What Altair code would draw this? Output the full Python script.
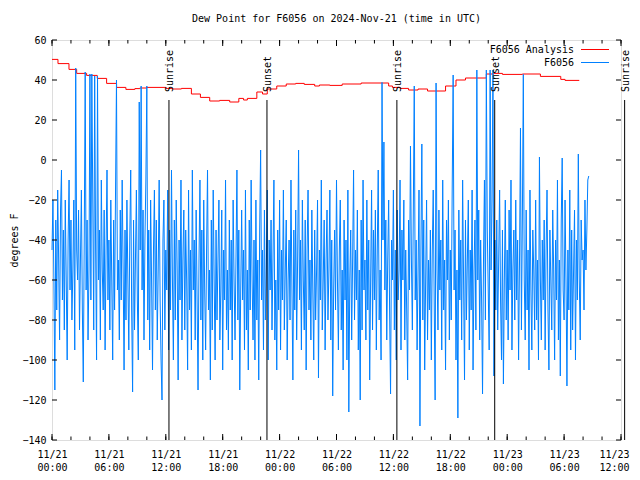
import altair as alt
import pandas as pd

FONT = "DejaVu Sans Mono"
TITLE = "Dew Point for F6056 on 2024-Nov-21 (time in UTC)"
series_names = ["F6056 Analysis", "F6056"]
series_colors = ["#ff0000", "#0080ff"]

# Analysis (red, stepped): hours after 2024-11-21 00:00 UTC and values (deg F)
analysis_hours = [0.0, 0.63, 1.79, 2.6, 3.65, 4.77, 5.76, 6.81, 7.79, 8.74, 9.26, 9.97,
                  12.0, 12.7, 13.65, 14.7, 15.65, 16.63, 17.68, 18.74, 19.7, 20.2, 20.6,
                  21.6, 22.2, 22.7, 23.7, 24.7, 25.7, 26.6, 27.7, 28.2, 29.3, 30.6, 32.6,
                  35.5, 35.9, 36.7, 37.6, 38.6, 39.6, 41.5, 42.6, 43.6, 45.8, 46.6, 47.5,
                  49.6, 51.5, 53.65, 54.1, 55.6]
analysis_values = [50.3, 48.2, 45.3, 43.3, 42.3, 40.8, 38.3, 36.3, 35.3, 35.7, 36.0, 36.3,
                   35.8, 35.5, 35.8, 33.0, 31.3, 29.5, 29.8, 29.0, 30.8, 30.0, 30.8,
                   34.0, 33.0, 35.5, 37.0, 38.0, 38.3, 37.8, 37.0, 37.5, 37.3, 38.0, 38.5,
                   37.0, 36.3, 35.8, 35.0, 35.5, 34.5, 37.0, 40.0, 41.0, 43.0, 43.3, 42.8,
                   43.0, 41.8, 40.3, 39.8, 39.8]

# Observations (blue): one value every 6 minutes from 2024-11-21 00:00 UTC
obs_step_minutes = 6
obs_values = [
    -45, -20, -60, -115, -30, -75, -15, -50, -90, -25,
    -5, -70, -35, -85, -20, -60, -100, -40, -10, -65,
    -30, -80, -55, -20, -95, 46, -45, -60, -25, -85,
    -50, -15, -75, -111, -40, 44, -65, -30, -90, -55,
    43, -70, 43, -20, -85, 42, -45, -100, 42, -60,
    -35, -90, -10, -55, -75, -25, -95, -45, -5, -70,
    -40, -85, -20, -60, -100, -30, -75, -15, 40, -65,
    -50, -90, -25, -70, -10, -55, -105, -35, -80, -20,
    -60, -95, -40, -5, -75, -116, -30, -85, -50, -15,
    -70, -100, 29, -45, 37, -65, -25, -90, -40, -10,
    37, -80, -35, -95, -20, -60, -105, -45, -15, -75,
    -30, -90, -55, -10, -70, -100, -120, -40, -20, -85,
    -45, -65, -15, -95, -35, -75, -5, -60, -100, -30,
    -80, -20, -55, -110, -40, -70, -10, -90, -50, -25,
    -85, -35, -60, -105, -15, -75, -45, -95, -5, -65,
    -40, -90, -25, -70, -115, -50, -10, -80, -35, -100,
    -20, -65, -95, -45, -5, -75, -55, -110, -30, -85,
    -15, -60, -100, -35, -80, -50, -20, -90, -65, -25,
    -105, -45, -70, -10, -85, -55, -95, -30, -75, -40,
    -100, -20, -60, -90, -50, -5, -80, -35, -115, -65,
    -25, -70, -45, -95, -15, -85, -55, -105, -30, -75,
    -10, -60, -90, -40, -100, -20, -80, -50, -110, -35,
    5, -70, -45, -95, -25, -80, -55, -15, -100, -40,
    -65, -30, -85, -50, -10, -90, -60, -105, -35, -75,
    -20, -95, -45, -70, -15, -85, -55, -30, -100, -60,
    -40, -80, -10, -65, -110, -35, -75, -25, -90, -50,
    5, -70, -40, -95, -20, -60, -85, -30, -105, -45,
    -15, -75, -50, -90, -25, -65, -100, -35, -80, -55,
    -20, -109, -45, -70, -10, -85, -60, -30, -95, -50,
    -25, -80, -55, -15, -90, -40, -118, -65, -35, -75,
    -10, -60, -95, -45, -20, -85, -55, -105, -30, -70,
    -40, -100, -15, -126, -60, -35, -90, -50, -5, -80,
    -45, -70, -25, -95, -55, -120, -30, -85, -10, -65,
    -50, -90, -20, -75, -40, -110, -60, -15, -85, -35,
    -70, -25, -95, -45, -5, -80, -55, -100, 38.8, -40,
    9, -65, -30, -90, -50, -20, -75, -117, -40, -60,
    -15, -85, -45, -100, -25, -70, -55, -10, -95, -35,
    -60, -20, -90, -45, -75, -110, -30, -65, 7, -50,
    -85, -25, 37, -70, -40, -95, -55, -15, -133, -45,
    8, -80, -30, -105, -60, -20, -90, -50, -75, -35,
    -100, -45, -15, -70, -120, 38.5, -55, -85, -25, -65,
    -40, -95, -10, -75, -50, -105, -30, -60, -20, -90,
    -45, -80, -15, 42.5, -65, -35, -100, -55, -129, -25,
    -70, -40, -90, -10, -60, -110, -30, -80, -50, -20,
    -95, -45, -75, -15, -105, -55, -30, -85, 45, -60,
    -25, -90, -40, -70, -117, -50, -10, -80, 45, -35,
    -65, -95, 45, -55, -20, 45, -108, -40, -75, -30,
    -85, -50, -15, -70, -100, -35, -112, -60, -20, -80,
    -45, -90, -25, -65, -10, -95, -55, -35, -80, -20,
    -70, -40, -100, -50, 16, -85, -30, 42.8, -60, -90,
    -25, -75, -45, -105, -15, -65, -95, -35, -55, -85,
    -20, -80, -50, -100, 1.5, -60, -90, -40, -70, -30,
    -95, -45, -15, -75, -105, -35, -60, -85, -25, -55,
    -100, -40, -70, -10, -90, -50, -108, -30, 1, -65,
    -80, -20, -60, -113, -45, -75, -15, -95, -35, -85,
    -55, -25, -100, -40, -70, 3, -60, -90, -30, -50,
    -45, -75, -20, -55, -35, -10, -8,
]

# Sunrise / sunset markers
event_times = ["2024-11-21T12:20:00Z", "2024-11-21T22:40:00Z", "2024-11-22T12:22:00Z",
               "2024-11-22T22:41:00Z", "2024-11-23T12:23:00Z"]
event_labels = ["Sunrise", "Sunset", "Sunrise", "Sunset", "Sunrise"]
event_top = 30
event_label_at = 34

y_ticks = list(range(-140, 61, 20))
x_major_hours = list(range(0, 61, 6))
x_minor_hours = list(range(0, 61, 2))
Y_MIN, Y_MAX = -140, 60

W, H = 569, 400
base = pd.Timestamp("2024-11-21 00:00:00")


def iso(ts):
    return ts.strftime("%Y-%m-%dT%H:%M:%SZ")


def dt(h):
    return alt.DateTime(year=2024, month=11, date=21 + h // 24, hours=h % 24, utc=True)


analysis_df = pd.DataFrame({
    "t": [iso(base + pd.Timedelta(hours=h)) for h in analysis_hours],
    "v": analysis_values,
})
obs_df = pd.DataFrame({
    "t": [iso(base + pd.Timedelta(minutes=obs_step_minutes * i)) for i in range(len(obs_values))],
    "v": obs_values,
})
event_df = pd.DataFrame({
    "t": event_times, "label": event_labels,
    "v": [event_top] * len(event_times), "bottom": [Y_MIN] * len(event_times),
})
event_text_df = pd.DataFrame({"t": event_times, "label": event_labels,
                              "v": [event_label_at] * len(event_times)})
ytick_df = pd.DataFrame({"v": y_ticks})
xmaj_df = pd.DataFrame({"t": [iso(base + pd.Timedelta(hours=h)) for h in x_major_hours]})
xmin_df = pd.DataFrame({"t": [iso(base + pd.Timedelta(hours=h)) for h in x_minor_hours]})

xs = alt.Scale(type="utc", domain=[dt(0), dt(60)], nice=False)
ys = alt.Scale(domain=[Y_MIN, Y_MAX], nice=False, zero=False)

x_axis = alt.Axis(
    values=[dt(h) for h in x_major_hours],
    labelExpr="[utcFormat(datum.value, '%m/%d'), utcFormat(datum.value, '%H:%M')]",
    ticks=False, domain=False, grid=False, labelFont=FONT, labelFontSize=10,
    labelLineHeight=13, labelPadding=9, labelFlush=False, labelOverlap=False,
    labelBound=False, title=None, labelColor="black",
    labelOffset={"condition": {"test": "datum.index >= 0.999", "value": -7}, "value": 0},
)
y_axis = alt.Axis(
    values=y_ticks, ticks=False, domain=False, grid=False, labelFont=FONT,
    labelFontSize=10, labelPadding=6, labelColor="black", title="degrees F",
    titleFont=FONT, titleFontSize=10, titleFontWeight="normal", titleColor="black",
    titleAngle=270, titleX=-38, titleY=200, titleBaseline="middle", titleAlign="center",
)


def X():
    return alt.X("t:T", scale=xs, axis=x_axis, title=None)


def Y(field="v"):
    return alt.Y(f"{field}:Q", scale=ys, axis=y_axis, title="degrees F")


red = alt.Chart(analysis_df).mark_line(color=series_colors[0], strokeWidth=1,
                                       interpolate="step-after").encode(x=X(), y=Y())
blue = alt.Chart(obs_df).mark_line(color=series_colors[1], strokeWidth=1).encode(x=X(), y=Y())
ev_rule = alt.Chart(event_df).mark_rule(color="black", strokeWidth=1).encode(
    x=X(), y=Y(), y2="bottom:Q")
ev_text = alt.Chart(event_text_df).mark_text(
    angle=270, align="left", baseline="middle", dy=1.5, font=FONT, fontSize=10,
    color="black").encode(x=X(), y=Y(), text="label:N")

tick_color = "black"
yt_left = alt.Chart(ytick_df).mark_rule(color=tick_color).encode(
    y=Y(), x=alt.value(0), x2=alt.value(5))
yt_right = alt.Chart(ytick_df).mark_rule(color=tick_color).encode(
    y=Y(), x=alt.value(W - 5), x2=alt.value(W))
xt_min_b = alt.Chart(xmin_df).mark_rule(color=tick_color).encode(
    x=X(), y=alt.value(H - 3.5), y2=alt.value(H))
xt_min_t = alt.Chart(xmin_df).mark_rule(color=tick_color).encode(
    x=X(), y=alt.value(0), y2=alt.value(3.5))
xt_maj_b = alt.Chart(xmaj_df).mark_rule(color=tick_color).encode(
    x=X(), y=alt.value(H - 6), y2=alt.value(H))
xt_maj_t = alt.Chart(xmaj_df).mark_rule(color=tick_color).encode(
    x=X(), y=alt.value(0), y2=alt.value(6))

leg_layers = []
for i, (name, col) in enumerate(zip(series_names, series_colors)):
    yy = 10 + 13 * i
    leg_layers.append(
        alt.Chart(pd.DataFrame({"name": [name]})).mark_text(
            align="right", baseline="middle", font=FONT, fontSize=10, color="black"
        ).encode(text="name:N", x=alt.value(522), y=alt.value(yy))
    )
    leg_layers.append(
        alt.Chart(pd.DataFrame({"name": [name]})).mark_rule(color=col, strokeWidth=1).encode(
            x=alt.value(529), x2=alt.value(557), y=alt.value(yy - 0.5))
    )

chart = alt.layer(
    red, blue, ev_rule, ev_text, yt_left, yt_right, xt_min_b, xt_min_t, xt_maj_b, xt_maj_t,
    *leg_layers
).properties(
    width=W, height=H,
    title=alt.TitleParams(TITLE, font=FONT, fontSize=10, fontWeight="normal",
                          anchor="middle", offset=11, color="black"),
    autosize=alt.AutoSizeParams(type="none"),
    padding={"left": 44, "top": 32, "right": 11, "bottom": 32},
).configure_view(stroke="black", strokeWidth=1).configure(background="white")

chart.save("out.html", embed_options={"renderer": "svg", "actions": False})
